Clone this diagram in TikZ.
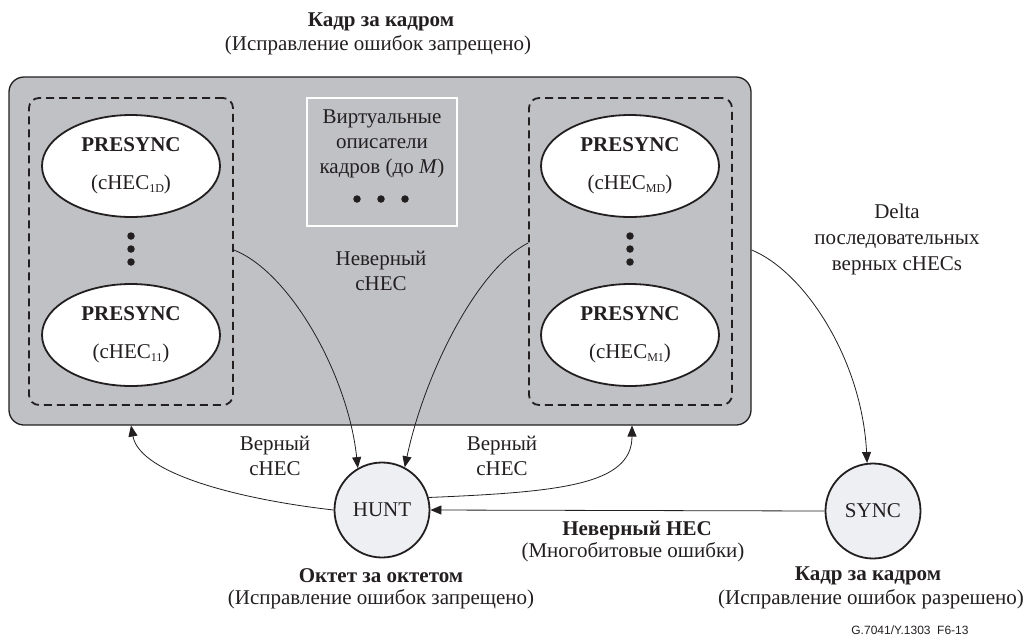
\documentclass[tikz,border=0pt]{standalone}
\usepackage{fontspec}
\setmainfont{Liberation Serif}
\newfontfamily\codefont{Liberation Sans}
\usetikzlibrary{arrows.meta,shapes.geometric}
\definecolor{panelgray}{HTML}{C0C1C4}
\definecolor{circfill}{HTML}{EEEFF2}
\definecolor{ink}{HTML}{231F20}
\newcommand{\sub}[1]{\raisebox{-0.3ex}{\fontsize{12}{12}\selectfont #1}}
\begin{document}
\begin{tikzpicture}[x=1pt,y=-1pt,
  every node/.style={font=\fontsize{21}{25}\selectfont, text=ink},
  lbl/.style={align=center, inner sep=0pt},
  bld/.style={font=\fontsize{21}{25}\selectfont\bfseries},
  panel/.style={draw=ink, line width=1.3pt, fill=panelgray, rounded corners=15pt},
  dbox/.style={draw=ink, line width=1.8pt, dash pattern=on 8pt off 5pt, rounded corners=10pt},
  pres/.style={draw=ink, fill=white, line width=1.8pt, ellipse, minimum width=178pt, minimum height=102pt, inner sep=0pt, align=center},
  state/.style={draw=ink, fill=circfill, line width=1.8pt, circle, minimum size=95pt, inner sep=0pt},
  vdot/.style={circle, fill=ink, inner sep=0pt, minimum size=7.5pt},
  conn/.style={draw=ink, line width=0.8pt, -{Triangle[length=11pt,width=9pt]}}
]
\useasboundingbox (0,0) rectangle (1029,638);
% title
\node[lbl, bld] (t1) at (381,22) {Кадр за кадром};
\node[lbl] (t2) at (378,45) {(Исправление ошибок запрещено)};
% panel
\node[panel, minimum width=742pt, minimum height=348pt, inner sep=0pt] (panel) at (380,251) {};
% dashed boxes
\node[dbox, minimum width=204pt, minimum height=307pt, inner sep=0pt] (lbox) at (131,251.5) {};
\node[dbox, minimum width=203pt, minimum height=307pt, inner sep=0pt] (rbox) at (630.5,251.5) {};
% ellipses
\node[pres] (p1d) at (131,166) {\textbf{PRESYNC}\\[13pt](cHEC\sub{1D})};
\node[pres] (p11) at (131,335) {\textbf{PRESYNC}\\[13pt](cHEC\sub{11})};
\node[pres] (pmd) at (630,166) {\textbf{PRESYNC}\\[13pt](cHEC\sub{MD})};
\node[pres] (pm1) at (630,335) {\textbf{PRESYNC}\\[13pt](cHEC\sub{M1})};
% vertical dots
\node[vdot] (ld1) at (131,236) {};
\node[vdot] (ld2) at (131,249) {};
\node[vdot] (ld3) at (131,262) {};
\node[vdot] (rd1) at (630,236) {};
\node[vdot] (rd2) at (630,249) {};
\node[vdot] (rd3) at (630,262) {};
% virtual box
\node[draw=white, line width=1.8pt, minimum width=150pt, minimum height=128pt, inner sep=0pt] (vbox) at (382,162) {};
\node[lbl] (vtxt) at (382,144) {Виртуальные\\описатели\\кадров (до \textit{M})};
\node[vdot] (hd1) at (357,199) {};
\node[vdot] (hd2) at (381,199) {};
\node[vdot] (hd3) at (405,199) {};
\node[lbl] (inv) at (381,271) {Неверный\\cHEC};
% delta label
\node[lbl] (delta) at (897,239) {Delta\\[1pt]последовательных\\[1pt]верных cHECs};
% states
\node[state] (hunt) at (382,510) {HUNT};
\node[state] (sync) at (873,511) {SYNC};
% labels near states
\node[lbl] (v1) at (275,456) {Верный\\cHEC};
\node[lbl] (v2) at (502,456) {Верный\\cHEC};
\node[lbl, bld] (neh) at (637,530) {Неверный HEC};
\node[lbl] (mnog) at (633,552) {(Многобитовые ошибки)};
\node[lbl, bld] (oct) at (381,576) {Октет за октетом};
\node[lbl] (oct2) at (381,599) {(Исправление ошибок запрещено)};
\node[lbl, bld] (kk) at (868,576) {Кадр за кадром};
\node[lbl] (kk2) at (871,599) {(Исправление ошибок разрешено)};
\node[lbl, font=\fontsize{12}{13}\selectfont\codefont] (code) at (910,630) {G.7041/Y.1303\ \ F6-13};
% anchor coordinates for connectors
\coordinate (lout) at (lbox.east |- 0,250);
\coordinate (rin) at (rbox.west |- 0,243);
\coordinate (rout) at (panel.east |- 0,250);
\coordinate (lback) at (131,425.5);
\coordinate (rback) at (632,425.5);
% connectors
\draw[conn] (lout) .. controls (290,272) and (348,375) .. (hunt.120);
\draw[conn] (rin) .. controls (478,268) and (425,372) .. (hunt.62);
\draw[conn] (rout) .. controls (805,272) and (862,360) .. (sync.97);
\draw[conn] (hunt.west) .. controls (245,500) and (140,475) .. (lback);
\draw[conn] (hunt.15) .. controls (560,492) and (632,485) .. (rback);
\draw[conn] (sync.west) -- (hunt.east);
\end{tikzpicture}
\end{document}
